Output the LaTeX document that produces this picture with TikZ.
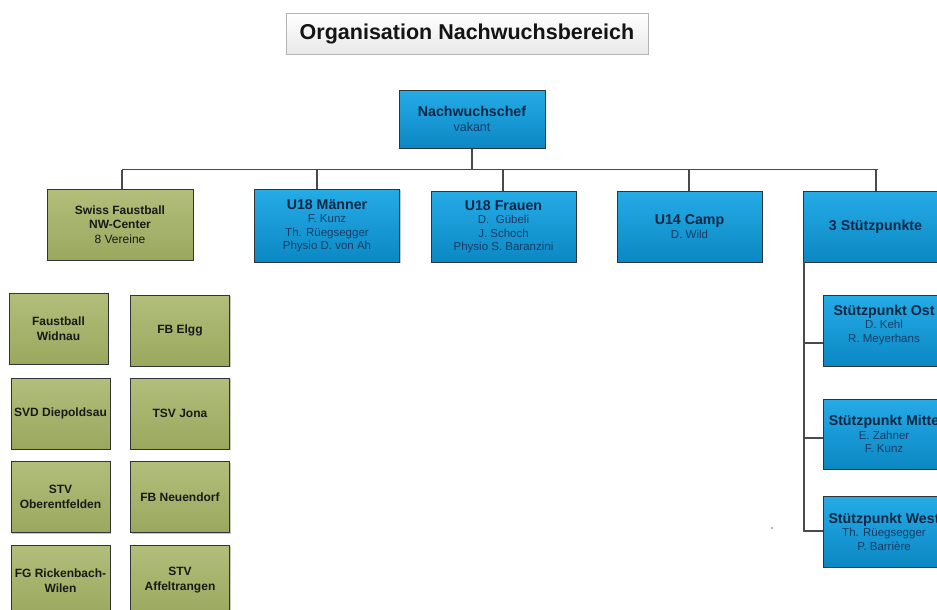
\documentclass[tikz,border=0pt]{standalone}
\usepackage{fontspec}
\setmainfont{Liberation Sans}
\usetikzlibrary{shadows}
\definecolor{blueTop}{HTML}{25ABE6}
\definecolor{blueBot}{HTML}{0B88C4}
\definecolor{greenTop}{HTML}{B2BE7A}
\definecolor{greenBot}{HTML}{9AA85F}
\definecolor{boxBorder}{HTML}{2E3438}
\definecolor{headCol}{HTML}{0F2745}
\definecolor{nameCol}{HTML}{1A3C66}
\definecolor{lineCol}{HTML}{4A4A4A}
\definecolor{titleBorder}{HTML}{B4B4B4}
\tikzset{
  boxbase/.style={draw=boxBorder, line width=1pt, inner sep=0pt, align=center,
    drop shadow={shadow xshift=1.3pt, shadow yshift=-1.3pt, opacity=0.22, fill=black}},
  bluebox/.style={boxbase, top color=blueTop, bottom color=blueBot,
    minimum width=145pt, minimum height=71pt, text=nameCol,
    font=\fontsize{11.5}{13.5}\selectfont},
  greenbox/.style={boxbase, top color=greenTop, bottom color=greenBot,
    minimum width=99pt, minimum height=71pt, text=black!90,
    font=\fontsize{12}{15}\selectfont\bfseries},
  conn/.style={draw=lineCol, line width=1.2pt},
}
\newcommand{\hd}[1]{{\color{headCol}\fontsize{14.2}{16}\selectfont\bfseries #1}}
\begin{document}
\begin{tikzpicture}[x=1pt, y=-1pt]
\useasboundingbox (0,0) rectangle (937,610);
\clip (0,0) rectangle (937,610);
\fill[white] (0,0) rectangle (937,610);

% title
\node[draw=titleBorder, line width=0.9pt, top color=white, bottom color=black!9,
  minimum width=362pt, minimum height=41pt, inner sep=0pt,
  drop shadow={shadow xshift=1pt, shadow yshift=-1pt, opacity=0.15, fill=black},
  font=\fontsize{21.5}{24}\selectfont\bfseries, text=black!92] (title) at (467,33.5)
  {Organisation Nachwuchsbereich};

% top
\node[bluebox, minimum width=146pt, minimum height=58pt] (chef) at (472,119)
  {\hd{Nachwuchschef}\\[1pt]{\fontsize{12.5}{14}\selectfont vakant}};

% second row
\node[greenbox, minimum width=146pt, font=\fontsize{12}{14.5}\selectfont\bfseries] (swiss) at (120,224.5)
  {Swiss Faustball\\NW-Center\\{\mdseries 8 Vereine}};
\node[bluebox, minimum height=73pt] (m) at (327,225.5)
  {\hd{U18 Männer}\\F. Kunz\\Th. Rüegsegger\\Physio D. von Ah};
\node[bluebox] (f) at (503.5,226.5)
  {\hd{U18 Frauen}\\D.\ \ Gübeli\\J. Schoch\\Physio S. Baranzini};
\node[bluebox] (u14) at (689.5,226.5)
  {\hd{U14 Camp}\\D. Wild};
\node[bluebox] (s3) at (875.5,226.5)
  {\hd{3 Stützpunkte}};

% Stützpunkte
\node[bluebox, minimum width=122pt] (ost) at (884,330.5)
  {\hd{Stützpunkt Ost}\\D. Kehl\\R. Meyerhans\\\mbox{}};
\node[bluebox, minimum width=122pt, minimum height=70pt] (mitte) at (884,434)
  {\hd{Stützpunkt Mitte}\\E. Zahner\\F. Kunz};
\node[bluebox, minimum width=122pt] (west) at (884,531.5)
  {\hd{Stützpunkt West}\\Th. Rüegsegger\\P. Barrière};

% clubs
\node[greenbox] (c1) at (58.5,328.5) {Faustball\\Widnau};
\node[greenbox] (c2) at (180,330.5) {FB Elgg};
\node[greenbox] (c3) at (60.5,413.5) {SVD Diepoldsau};
\node[greenbox] (c4) at (180,413.5) {TSV Jona};
\node[greenbox] (c5) at (60.5,497) {STV\\Oberentfelden};
\node[greenbox] (c6) at (180,497) {FB Neuendorf};
\node[greenbox] (c7) at (60.5,580.5) {FG Rickenbach-\\Wilen};
\node[greenbox] (c8) at (180,580.5) {STV\\Affeltrangen};

% connectors
\coordinate (busL) at (122,169.5);
\coordinate (busR) at (878,169.5);
\coordinate (dM) at (317,169.5);
\coordinate (dF) at (503,169.5);
\coordinate (dU) at (689,169.5);
\coordinate (dS) at (876,169.5);
\draw[conn] (chef.south) -- (chef.south |- busL);
\draw[conn] (busL) -- (busR);
\draw[conn] (busL) -- (busL |- swiss.north);
\draw[conn] (dM) -- (dM |- m.north);
\draw[conn] (dF) -- (dF |- f.north);
\draw[conn] (dU) -- (dU |- u14.north);
\draw[conn] (dS) -- (dS |- s3.north);

\coordinate (sv) at (804,262);
\coordinate (bO) at (804,343);
\coordinate (bM) at (804,438);
\coordinate (bW) at (804,531);
\draw[conn] (sv) -- (bW) -- (bW -| west.west);
\draw[conn] (bO) -- (bO -| ost.west);
\draw[conn] (bM) -- (bM -| mitte.west);

\fill[black!55] (772,528) circle (0.9pt);
\end{tikzpicture}
\end{document}
